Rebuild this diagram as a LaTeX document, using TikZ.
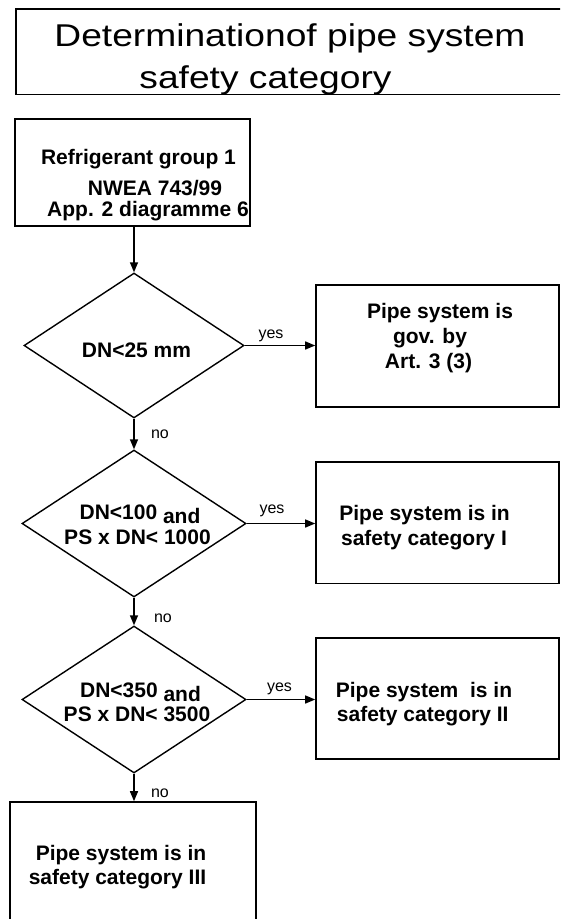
\documentclass[tikz,border=0pt]{standalone}
\usepackage{fontspec}
\setmainfont{Liberation Sans}
\newfontfamily\titlefont[FakeStretch=1.18]{Liberation Sans}
\usetikzlibrary{shapes.geometric,arrows.meta}

\begin{document}
\begin{tikzpicture}[x=1pt,y=-1pt,
  box/.style={draw,rectangle,line width=1.6pt,inner sep=0pt},
  dec/.style={draw,diamond,line width=1.4pt,inner sep=0pt,minimum width=222pt,minimum height=147pt},
  ttl/.style={anchor=base,font=\titlefont\fontsize{31.5}{38}\selectfont},
  txt/.style={anchor=base,font=\fontsize{21}{24}\selectfont\bfseries},
  ans/.style={anchor=base,font=\fontsize{16}{18}\selectfont},
  arr/.style={-{Triangle[length=10pt,width=8pt]},line width=1.4pt}]

  \clip (0,0) rectangle (560,919);

  % Title
  \node[box,minimum width=554pt,minimum height=85.5pt] (title) at (293,51.75) {};
  \node[ttl] (title1) at (290,46.5) {Determinationof pipe system};
  \node[ttl] (title2) at (265.5,88) {safety category};

  % Start
  \node[box,minimum width=235pt,minimum height=107pt] (start) at (132.5,172.5) {};
  \node[txt] (start1) at (138.5,164.3) {Refrigerant group 1};
  \node[txt] (start2) at (155,195.7) {NWEA 743/99};
  \node[txt] (start3) at (148,216) {App. 2 diagramme 6};

  % Decisions
  \node[dec,minimum width=220pt,minimum height=145pt] (d1) at (134,345.5) {};
  \node[txt] (d1a) at (136.5,357) {DN<25 mm};

  \node[dec,minimum width=224pt] (d2) at (134,523.5) {};
  \node[txt] (d2a) at (140,519.3) {DN<100 \raisebox{-4pt}{and}};
  \node[txt] (d2b) at (137.5,544) {PS x DN< 1000};

  \node[dec,minimum width=224pt] (d3) at (134,699.5) {};
  \node[txt] (d3a) at (140.5,697) {DN<350 \raisebox{-4pt}{and}};
  \node[txt] (d3b) at (137,721) {PS x DN< 3500};

  % Results
  \node[box,minimum width=243pt,minimum height=122pt] (gov) at (437.5,346) {};
  \node[txt] (gov1) at (440,318) {Pipe system is};
  \node[txt] (gov2) at (430,343) {gov. by};
  \node[txt] (gov3) at (428.5,368) {Art. 3 (3)};

  \node[box,minimum width=243pt,minimum height=121.5pt] (cat1) at (437.5,522.75) {};
  \node[txt] (cat1a) at (424.6,520.7) {Pipe system is in};
  \node[txt] (cat1b) at (424,545) {safety category I};

  \node[box,minimum width=243pt,minimum height=121pt] (cat2) at (437.5,698.5) {};
  \node[txt] (cat2a) at (424,697) {Pipe system\ \ is in};
  \node[txt] (cat2b) at (422.7,721) {safety category II};

  \node[box,minimum width=246pt,minimum height=138pt] (cat3) at (133,871) {};
  \node[txt] (cat3a) at (121,860.7) {Pipe system is in};
  \node[txt] (cat3b) at (117.5,884) {safety category III};

  % Answers
  \node[ans] (yes1) at (271,338) {yes};
  \node[ans] (yes2) at (272,513) {yes};
  \node[ans] (yes3) at (279.5,691) {yes};
  \node[ans] (no1) at (160,438) {no};
  \node[ans] (no2) at (163,622) {no};
  \node[ans] (no3) at (160,797) {no};

  % Edges
  \draw[arr] (d1.north |- start.south) -- (d1.north);
  \draw[arr] (d1.south) -- (d2.north);
  \draw[arr] (d2.south) -- (d3.north);
  \draw[arr] (d3.south) -- (d3.south |- cat3.north);
  \draw[arr] (d1.east) -- (d1.east -| gov.west);
  \draw[arr] (d2.east) -- (d2.east -| cat1.west);
  \draw[arr] (d3.east) -- (d3.east -| cat2.west);

\end{tikzpicture}
\end{document}
